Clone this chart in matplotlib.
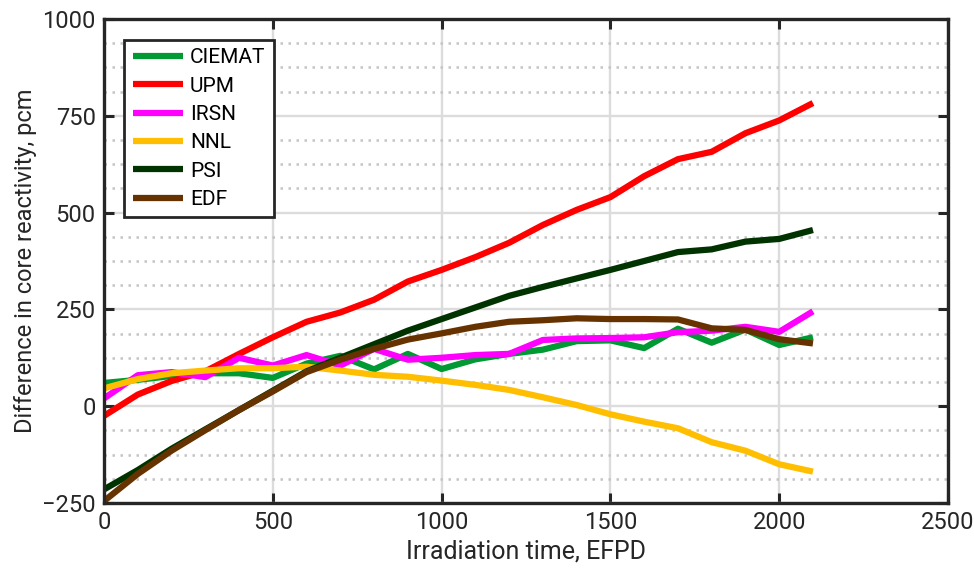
import numpy as np
import matplotlib
matplotlib.use('Agg')
import matplotlib.pyplot as plt
from matplotlib.ticker import MultipleLocator

plt.rcParams['font.family'] = ['Roboto', 'DejaVu Sans']

days = list(range(0, 2200, 100))

ciemat = [60, 68, 78, 85, 85, 73, 110, 130, 95, 135, 96, 121, 135, 146, 168, 170, 150, 200, 164, 198, 158, 178]
upm = [-25, 30, 65, 90, 135, 178, 218, 242, 275, 322, 352, 385, 422, 468, 507, 540, 594, 638, 657, 705, 738, 783]
irsn = [20, 80, 88, 75, 125, 105, 132, 105, 148, 120, 125, 132, 135, 171, 175, 176, 178, 191, 195, 205, 192, 245]
nnl = [46, 70, 85, 92, 98, 98, 102, 92, 81, 76, 66, 55, 42, 23, 3, -21, -40, -57, -93, -115, -150, -169]
psi = [-215, -165, -110, -60, -10, 40, 90, 125, 160, 195, 225, 255, 285, 308, 330, 352, 375, 398, 405, 425, 432, 455]
edf = [-245, -175, -115, -62, -10, 38, 88, 120, 148, 172, 188, 205, 218, 222, 227, 225, 225, 224, 201, 197, 173, 162]

series = [('CIEMAT', ciemat, '#009933'),
          ('UPM', upm, '#ff0000'),
          ('IRSN', irsn, '#ff00ff'),
          ('NNL', nnl, '#ffbf00'),
          ('PSI', psi, '#003300'),
          ('EDF', edf, '#663300')]

fig = plt.figure(figsize=(9.74, 5.81), dpi=100)
ax = fig.add_axes([0.1068, 0.1343, 0.8665, 0.833])

for name, vals, col in series:
    ax.plot(days, vals, color=col, lw=4.5, label=name, solid_capstyle='butt')

ax.set_xlim(0, 2500)
ax.set_ylim(-250, 1000)
ax.xaxis.set_major_locator(MultipleLocator(500))
ax.yaxis.set_major_locator(MultipleLocator(250))
ax.yaxis.set_minor_locator(MultipleLocator(62.5))

ax.grid(which='major', color='#dcdcdc', lw=1.7, ls='-')
ax.grid(which='minor', axis='y', color='#c4c4c4', lw=1.8, ls=(0, (1, 2.2)))
ax.set_axisbelow(True)

ax.tick_params(which='major', direction='in', length=7, width=2.2, top=True, right=True,
               labelsize=17, color='#262626', labelcolor='#262626', pad=6)
ax.tick_params(which='minor', length=0)
for sp in ax.spines.values():
    sp.set_linewidth(2.4)
    sp.set_color('#262626')

ax.set_xlabel('Irradiation time, EFPD', fontsize=18, color='#262626', labelpad=4)
ax.set_ylabel('Difference in core reactivity, pcm', fontsize=17, color='#262626')

leg = ax.legend(loc='upper left', bbox_to_anchor=(0.024, 0.957), fontsize=15, fancybox=False,
                framealpha=1, edgecolor='#262626', handlelength=2.4, borderpad=0.4,
                labelspacing=0.45, handletextpad=0.35, borderaxespad=0)
leg.get_frame().set_linewidth(2)

fig.savefig('out.png', dpi=100)
